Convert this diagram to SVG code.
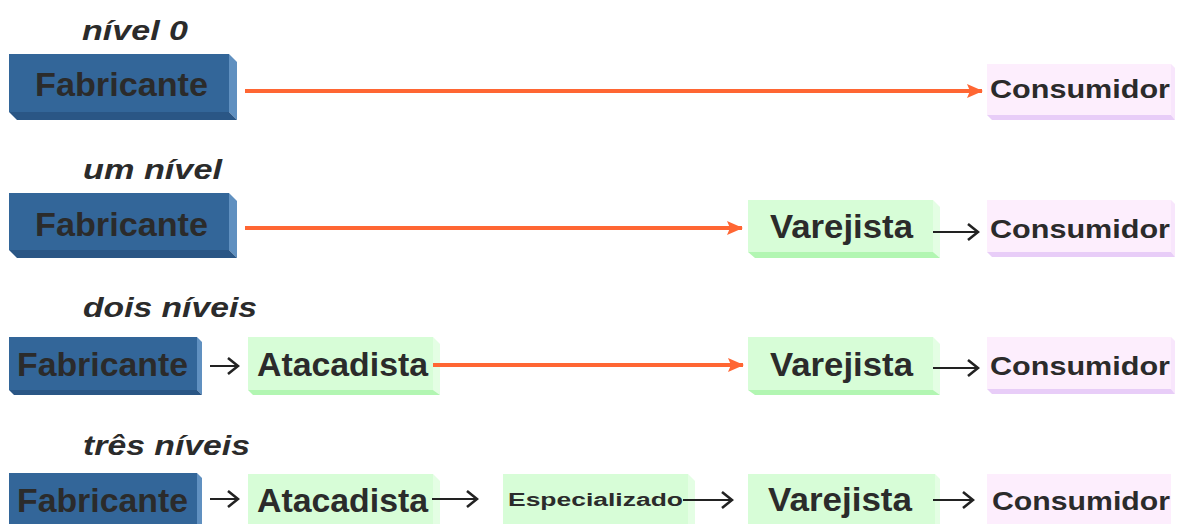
<svg xmlns="http://www.w3.org/2000/svg" width="1177" height="524" viewBox="0 0 1177 524">
<defs>
<marker id="oh" markerUnits="userSpaceOnUse" markerWidth="16" markerHeight="14" refX="15" refY="7" orient="auto"><path d="M0,0 L16,7 L0,14 L3,7 Z" fill="#ff6633"/></marker>
<marker id="bh" markerUnits="userSpaceOnUse" markerWidth="14" markerHeight="20" refX="12" refY="10" orient="auto"><path d="M2,2 L12,10 L2,18" fill="none" stroke="#222" stroke-width="2.6"/></marker>
</defs>
<style>
.lvl{font-family:"Liberation Sans",Arial,sans-serif;font-weight:bold;font-style:italic;font-size:28px;fill:#2b2b2b}
.t{font-family:"Liberation Sans",Arial,sans-serif;font-weight:bold;fill:#2b2b2b}
.big{font-size:33px}
.cons{font-size:26px}
.small{font-size:18px}
.bf{fill:#336699}.bs{fill:#6090c0}.bb{fill:#2a5685}
.gf{fill:#d7fdd7}.gs{fill:#e4fee4}.gb{fill:#b2f6b2}
.pf{fill:#fdeefd}.ps{fill:#f8e6fc}.pb{fill:#e8cdf8}
.or{stroke:#ff6633;stroke-width:4;fill:none}
.bk{stroke:#222;stroke-width:2;fill:none}
</style>
<rect width="1177" height="524" fill="#ffffff"/>

<g id="labels">
<text class="lvl" x="82" y="40" textLength="106" lengthAdjust="spacingAndGlyphs">nível 0</text>
<text class="lvl" x="83" y="179" textLength="139" lengthAdjust="spacingAndGlyphs">um nível</text>
<text class="lvl" x="83" y="317" textLength="174" lengthAdjust="spacingAndGlyphs">dois níveis</text>
<text class="lvl" x="83" y="455" textLength="167" lengthAdjust="spacingAndGlyphs">três níveis</text>
</g>

<!-- Row 1 -->
<g id="r1-fabricante">
<polygon class="bs" points="229,54 237,62 237,120 229,112"/>
<polygon class="bb" points="9,112 229,112 237,120 17,120"/>
<rect class="bf" x="9" y="54" width="220" height="58"/>
<text class="t big" x="35" y="96" textLength="173" lengthAdjust="spacingAndGlyphs">Fabricante</text>
</g>
<g id="r1-consumidor">
<polygon class="ps" points="1171,64 1175,68 1175,120 1171,115"/>
<polygon class="pb" points="987,115 1171,115 1175,120 992,120"/>
<rect class="pf" x="987" y="64" width="184" height="51"/>
<text class="t cons" x="990" y="98" textLength="180" lengthAdjust="spacingAndGlyphs">Consumidor</text>
</g>

<!-- Row 2 -->
<g id="r2-fabricante">
<polygon class="bs" points="229,193 237,201 237,258 229,250"/>
<polygon class="bb" points="9,250 229,250 237,258 17,258"/>
<rect class="bf" x="9" y="193" width="220" height="57"/>
<text class="t big" x="35" y="236" textLength="173" lengthAdjust="spacingAndGlyphs">Fabricante</text>
</g>
<g id="r2-varejista">
<polygon class="gs" points="933,200 940,207 940,258 933,252"/>
<polygon class="gb" points="748,252 933,252 940,258 755,258"/>
<rect class="gf" x="748" y="200" width="185" height="52"/>
<text class="t big" x="770" y="238" textLength="143" lengthAdjust="spacingAndGlyphs">Varejista</text>
</g>
<g id="r2-consumidor">
<polygon class="ps" points="1171,200 1175,204 1175,257 1171,252"/>
<polygon class="pb" points="987,252 1171,252 1175,257 992,257"/>
<rect class="pf" x="987" y="200" width="184" height="52"/>
<text class="t cons" x="990" y="238" textLength="180" lengthAdjust="spacingAndGlyphs">Consumidor</text>
</g>

<!-- Row 3 -->
<g id="r3-fabricante">
<polygon class="bs" points="197,337 202,342 202,395 197,390"/>
<polygon class="bb" points="9,390 197,390 202,395 14,395"/>
<rect class="bf" x="9" y="337" width="188" height="53"/>
<text class="t big" x="17" y="376" textLength="171" lengthAdjust="spacingAndGlyphs">Fabricante</text>
</g>
<g id="r3-atacadista">
<polygon class="gs" points="433,337 440,344 440,395 433,390"/>
<polygon class="gb" points="248,390 433,390 440,395 253,395"/>
<rect class="gf" x="248" y="337" width="185" height="53"/>
<text class="t big" x="257" y="376" textLength="171" lengthAdjust="spacingAndGlyphs">Atacadista</text>
</g>
<g id="r3-varejista">
<polygon class="gs" points="933,337 940,344 940,395 933,390"/>
<polygon class="gb" points="748,390 933,390 940,395 755,395"/>
<rect class="gf" x="748" y="337" width="185" height="53"/>
<text class="t big" x="770" y="376" textLength="143" lengthAdjust="spacingAndGlyphs">Varejista</text>
</g>
<g id="r3-consumidor">
<polygon class="ps" points="1171,337 1175,341 1175,394 1171,389"/>
<polygon class="pb" points="987,389 1171,389 1175,394 992,394"/>
<rect class="pf" x="987" y="337" width="184" height="52"/>
<text class="t cons" x="990" y="375" textLength="180" lengthAdjust="spacingAndGlyphs">Consumidor</text>
</g>

<!-- Row 4 -->
<g id="r4-fabricante">
<polygon class="bs" points="197,473 202,478 202,524 197,524"/>
<rect class="bf" x="9" y="473" width="188" height="51"/>
<text class="t big" x="17" y="512" textLength="171" lengthAdjust="spacingAndGlyphs">Fabricante</text>
</g>
<g id="r4-atacadista">
<polygon class="gs" points="433,474 440,481 440,524 433,524"/>
<rect class="gf" x="248" y="474" width="185" height="50"/>
<text class="t big" x="257" y="512" textLength="171" lengthAdjust="spacingAndGlyphs">Atacadista</text>
</g>
<g id="r4-especializado">
<polygon class="gs" points="688,474 695,481 695,524 688,524"/>
<rect class="gf" x="503" y="474" width="185" height="50"/>
<text class="t small" x="508" y="506" textLength="175" lengthAdjust="spacingAndGlyphs">Especializado</text>
</g>
<g id="r4-varejista">
<polygon class="gs" points="935,474 940,479 940,524 935,524"/>
<rect class="gf" x="748" y="474" width="187" height="50"/>
<text class="t big" x="768" y="511" textLength="144" lengthAdjust="spacingAndGlyphs">Varejista</text>
</g>
<g id="r4-consumidor">
<rect class="pf" x="987" y="474" width="184" height="50"/>
<text class="t cons" x="992" y="510" textLength="178" lengthAdjust="spacingAndGlyphs">Consumidor</text>
</g>

<g id="connectors">
<line class="or" x1="245" y1="91" x2="982" y2="91" marker-end="url(#oh)"/>
<line class="or" x1="245" y1="228" x2="742" y2="228" marker-end="url(#oh)"/>
<line class="or" x1="433" y1="365" x2="743" y2="365" marker-end="url(#oh)"/>
<line class="bk" x1="933" y1="232" x2="978" y2="232" marker-end="url(#bh)"/>
<line class="bk" x1="210" y1="366" x2="238" y2="366" marker-end="url(#bh)"/>
<line class="bk" x1="933" y1="368" x2="978" y2="368" marker-end="url(#bh)"/>
<line class="bk" x1="210" y1="499" x2="238" y2="499" marker-end="url(#bh)"/>
<line class="bk" x1="432" y1="499" x2="477" y2="499" marker-end="url(#bh)"/>
<line class="bk" x1="683" y1="500" x2="732" y2="500" marker-end="url(#bh)"/>
<line class="bk" x1="933" y1="500" x2="973" y2="500" marker-end="url(#bh)"/>
</g>
</svg>
